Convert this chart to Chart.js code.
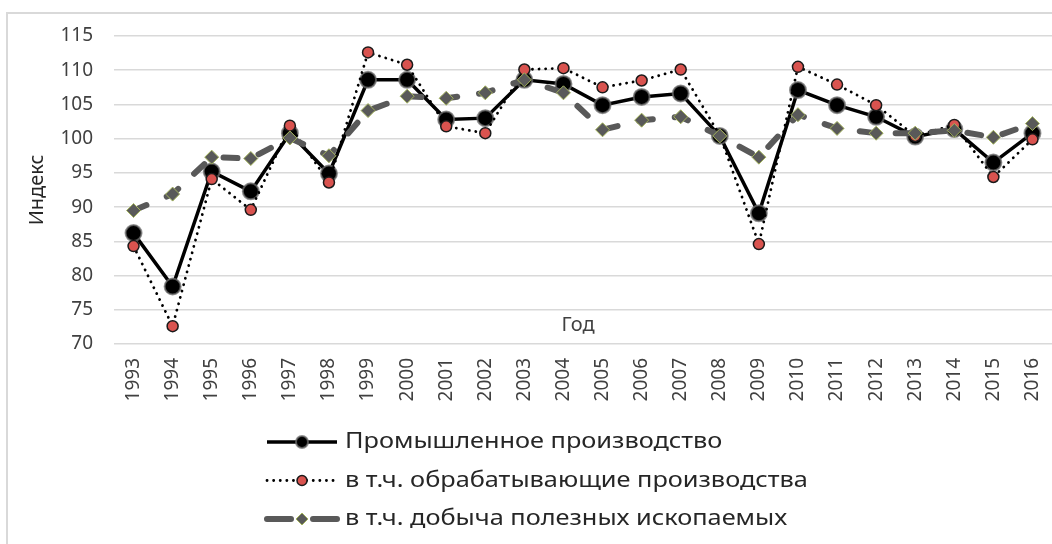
<!DOCTYPE html>
<html lang="ru">
<head>
<meta charset="utf-8">
<title>Индексы производства</title>
<script src="https://cdn.jsdelivr.net/npm/chart.js@4.4.1/dist/chart.umd.min.js"></script>
<style>
    html, body { margin: 0; padding: 0; background: #fff; overflow: hidden; }
    #frame { position: absolute; left: 6px; top: 12px; width: 1100px; height: 600px; border: 2px solid #d9d9d9; box-sizing: border-box; }
    #wrap { position: absolute; left: 0; top: 0; width: 1052px; height: 544px; }
</style>
</head>
<body>
<div id="frame"></div>
<div id="wrap"><canvas id="chart" width="1052" height="544"></canvas></div>
<script>
const years = ['1993', '1994', '1995', '1996', '1997', '1998', '1999', '2000', '2001', '2002', '2003', '2004',
    '2005', '2006', '2007', '2008', '2009', '2010', '2011', '2012', '2013', '2014', '2015', '2016'];

// Промышленное производство
const industrial = [86.2, 78.4, 95.2, 92.3, 100.8, 94.9, 108.6, 108.6, 102.8, 103.0, 108.6, 108.0,
    104.9, 106.1, 106.6, 100.4, 89.1, 107.1, 104.9, 103.2, 100.3, 101.4, 96.5, 100.8];
// в т.ч. обрабатывающие производства
const manufacturing = [84.3, 72.6, 94.1, 89.6, 101.9, 93.6, 112.6, 110.8, 101.8, 100.8, 110.1, 110.3,
    107.5, 108.5, 110.1, 100.5, 84.6, 110.5, 107.9, 104.9, 100.4, 102.0, 94.4, 99.9];
// в т.ч. добыча полезных ископаемых
const mining = [89.5, 91.9, 97.3, 97.1, 100.1, 97.5, 104.1, 106.2, 105.9, 106.7, 108.6, 106.7,
    101.3, 102.7, 103.2, 100.4, 97.3, 103.5, 101.5, 100.8, 100.8, 101.2, 100.2, 102.2];

const yMin = 70, yMax = 115, yStep = 5;

const FONT = '"Noto Sans", "DejaVu Sans", sans-serif';
const TEXT = '#404040';

function marker(ctx, style, x, y, r, fill, stroke, bw) {
    ctx.save();
    ctx.setLineDash([]);
    ctx.beginPath();
    if (style === 'rectRot') {
        ctx.moveTo(x, y - r); ctx.lineTo(x + r, y); ctx.lineTo(x, y + r); ctx.lineTo(x - r, y); ctx.closePath();
    } else {
        ctx.arc(x, y, r, 0, Math.PI * 2);
    }
    ctx.fillStyle = fill; ctx.fill();
    ctx.lineWidth = bw; ctx.strokeStyle = stroke; ctx.stroke();
    ctx.restore();
}

// подпись "Год" внутри области и легенда столбиком снизу
const extras = {
    id: 'extras',
    afterDraw(chart) {
        const { ctx, chartArea } = chart;
        ctx.save();
        ctx.font = '20px ' + FONT;
        ctx.fillStyle = TEXT;
        ctx.textAlign = 'center';
        ctx.textBaseline = 'middle';
        ctx.fillText('Год', (chartArea.left + chartArea.right) / 2 - 5, chartArea.bottom - 19);

        const x0 = 267, x1 = 337, xm = 302;
        chart.data.datasets.forEach((ds, i) => {
            const y = chartArea.bottom + 98 + i * 38.5;
            ctx.save();
            ctx.strokeStyle = ds.borderColor;
            ctx.lineWidth = ds.borderWidth;
            ctx.lineCap = ds.borderCapStyle || 'butt';
            ctx.setLineDash(ds.legendDash || []);
            ctx.beginPath();
            ctx.moveTo(x0, y); ctx.lineTo(x1, y);
            ctx.stroke();
            ctx.restore();
            marker(ctx, ds.pointStyle, xm, y, ds.legendRadius, ds.pointBackgroundColor, ds.pointBorderColor, ds.pointBorderWidth);
            ctx.save();
            ctx.font = '22px ' + FONT;
            ctx.fillStyle = '#262626';
            ctx.textAlign = 'left';
            ctx.textBaseline = 'middle';
            ctx.translate(345, y);
            ctx.scale(1.15, 1);
            ctx.fillText(ds.label, 0, 0);
            ctx.restore();
        });
        ctx.restore();
    }
};

new Chart(document.getElementById('chart'), {
    type: 'line',
    data: {
        labels: years,
        datasets: [
            {
                label: 'Промышленное производство', data: industrial, order: 3,
                borderColor: '#000', borderWidth: 3.5,
                pointStyle: 'circle', pointRadius: 8, pointBackgroundColor: '#000',
                pointBorderColor: 'rgba(110,110,110,0.75)', pointBorderWidth: 2,
                legendRadius: 6
            },
            {
                label: 'в т.ч. обрабатывающие производства', data: manufacturing, order: 2,
                borderColor: '#000', borderWidth: 2.8, borderDash: [0.1, 6.5], borderCapStyle: 'round',
                pointStyle: 'circle', pointRadius: 5.5, pointBackgroundColor: '#d9534f',
                pointBorderColor: '#1a1a1a', pointBorderWidth: 1.5,
                legendDash: [0.1, 6.5], legendRadius: 5
            },
            {
                label: 'в т.ч. добыча полезных ископаемых', data: mining, order: 1,
                borderColor: '#595959', borderWidth: 6, borderDash: [14, 22], borderCapStyle: 'round',
                pointStyle: 'rectRot', pointRadius: 7, pointBackgroundColor: '#595959',
                pointBorderColor: '#a3b35c', pointBorderWidth: 1,
                legendDash: [24, 22], legendRadius: 6
            }
        ]
    },
    options: {
        responsive: false,
        animation: false,
        devicePixelRatio: 1,
        layout: { autoPadding: false, padding: { left: 22, top: 36, right: 0, bottom: 126 } },
        plugins: { legend: { display: false }, tooltip: { enabled: false } },
        elements: { line: { tension: 0 } },
        scales: {
            x: {
                offset: true,
                grid: { display: false, drawTicks: false },
                border: { display: false },
                ticks: {
                    autoSkip: false, minRotation: 90, maxRotation: 90, padding: 14,
                    color: TEXT, font: { family: FONT, size: 19 }
                },
                afterFit: (s) => { s.height = 74; s.paddingLeft = 0; s.paddingRight = 0; }
            },
            y: {
                min: yMin, max: yMax,
                grid: { color: '#d9d9d9', lineWidth: 1.5, drawTicks: false },
                border: { display: false },
                ticks: { stepSize: yStep, padding: 21, color: TEXT, font: { family: FONT, size: 19 } },
                title: {
                    display: true, text: 'Индекс', color: '#262626',
                    font: { family: FONT, size: 20 }, padding: { top: 3, bottom: 12 }
                },
                afterFit: (s) => { s.width = 92; }
            }
        }
    },
    plugins: [extras]
});
</script>
</body>
</html>
